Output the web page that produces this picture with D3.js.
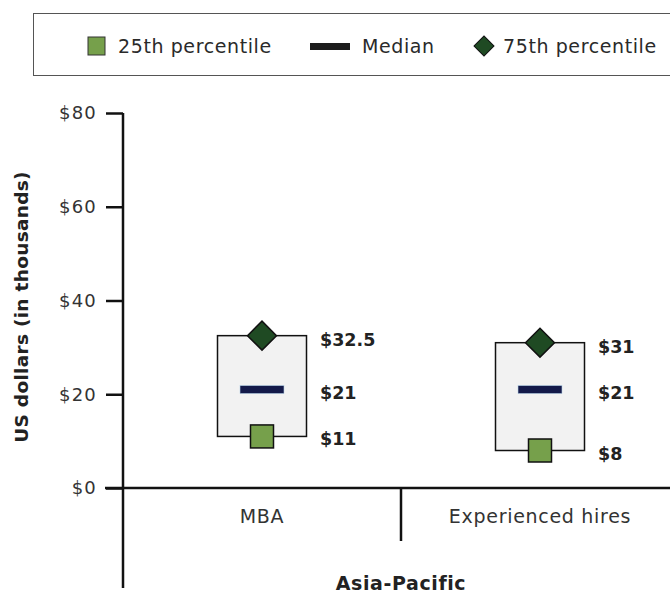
<!DOCTYPE html>
<html>
<head>
<meta charset="utf-8">
<script src="https://cdn.jsdelivr.net/npm/d3@7"></script>
<style>
  body { margin: 0; background: #fff; }
  svg text { font-family: "DejaVu Sans", sans-serif; }
</style>
</head>
<body>
<div id="chart"></div>
<script>
const categories = ['MBA', 'Experienced hires'];
const p25 = [11, 8];
const median = [21, 21];
const p75 = [32.5, 31];
const p25Labels = ['$11', '$8'];
const medianLabels = ['$21', '$21'];
const p75Labels = ['$32.5', '$31'];
const yTicks = [0, 20, 40, 60, 80];

const width = 670, height = 595;
const svg = d3.select('#chart').append('svg')
  .attr('width', width)
  .attr('height', height);

const x = d3.scaleBand().domain(categories).range([123, 679]);
const y = d3.scaleLinear().domain([0, 80]).range([488, 113]);

const lightGreen = '#76a04b', darkGreen = '#1f4a23', navy = '#141a4a';

// legend
const leg = svg.append('g');
leg.append('rect').attr('x', 33.5).attr('y', 13.5).attr('width', 660).attr('height', 62)
  .attr('fill', '#fff').attr('stroke', '#555').attr('stroke-width', 1);
leg.append('rect').attr('x', 88).attr('y', 37).attr('width', 17).attr('height', 18)
  .attr('fill', lightGreen).attr('stroke', '#333');
leg.append('text').attr('x', 118).attr('y', 53).text('25th percentile')
  .attr('font-size', 19).attr('letter-spacing', 0.6).attr('fill', '#2a2a2a');
leg.append('rect').attr('x', 310).attr('y', 43).attr('width', 40).attr('height', 7).attr('fill', '#1c1c1c');
leg.append('text').attr('x', 362).attr('y', 53).text('Median')
  .attr('font-size', 19).attr('letter-spacing', 0.6).attr('fill', '#2a2a2a');
leg.append('path').attr('d', d3.symbol(d3.symbolSquare, 200)())
  .attr('transform', 'translate(484,46) rotate(45)')
  .attr('fill', darkGreen).attr('stroke', '#111');
leg.append('text').attr('x', 503).attr('y', 53).text('75th percentile')
  .attr('font-size', 19).attr('letter-spacing', 0.6).attr('fill', '#2a2a2a');

// y axis
const yAxis = svg.append('g').attr('transform', 'translate(123,0)')
  .call(d3.axisLeft(y).tickValues(yTicks).tickSize(17).tickPadding(9).tickFormat(d => '$' + d));
yAxis.select('.domain').remove();
yAxis.selectAll('.tick line').attr('stroke', '#111').attr('stroke-width', 2.5);
yAxis.selectAll('.tick text').attr('font-size', 18).attr('fill', '#333').attr('letter-spacing', 1.2);
svg.append('line').attr('x1', 123).attr('x2', 123).attr('y1', 113).attr('y2', 588)
  .attr('stroke', '#111').attr('stroke-width', 2.5);

// x axis line and divider
svg.append('line').attr('x1', 105).attr('x2', 670).attr('y1', y(0)).attr('y2', y(0))
  .attr('stroke', '#111').attr('stroke-width', 2.5);
svg.append('line').attr('x1', x('Experienced hires')).attr('x2', x('Experienced hires'))
  .attr('y1', y(0)).attr('y2', 541).attr('stroke', '#111').attr('stroke-width', 2.5);

svg.selectAll('.cat').data(categories).join('text')
  .attr('x', d => x(d) + x.bandwidth() / 2).attr('y', 523)
  .attr('text-anchor', 'middle').attr('font-size', 19).attr('letter-spacing', 0.7).attr('fill', '#333')
  .text(d => d);

svg.append('text').attr('x', 401).attr('y', 590).attr('text-anchor', 'middle')
  .attr('font-size', 19).attr('letter-spacing', 0.6).attr('font-weight', 'bold').attr('fill', '#222').text('Asia-Pacific');

svg.append('text').attr('transform', 'translate(28,307) rotate(-90)')
  .attr('text-anchor', 'middle').attr('font-size', 18.5).attr('letter-spacing', 0.3).attr('font-weight', 'bold').attr('fill', '#222')
  .text('US dollars (in thousands)');

// boxes
const boxW = 89;
const g = svg.selectAll('.box').data(categories).join('g')
  .attr('transform', d => `translate(${x(d) + x.bandwidth() / 2},0)`);

g.append('rect')
  .attr('x', -boxW / 2).attr('width', boxW)
  .attr('y', (d, i) => y(p75[i]))
  .attr('height', (d, i) => y(p25[i]) - y(p75[i]))
  .attr('fill', '#f2f2f2').attr('stroke', '#111').attr('stroke-width', 1.5);

g.append('rect')
  .attr('x', -22).attr('width', 44)
  .attr('y', (d, i) => y(median[i]) - 4).attr('height', 8)
  .attr('fill', navy).attr('stroke', '#b8d4e8').attr('stroke-width', 0.6);

g.append('rect')
  .attr('x', -11.5).attr('width', 23)
  .attr('y', (d, i) => y(p25[i]) - 11.5).attr('height', 23)
  .attr('fill', lightGreen).attr('stroke', '#111').attr('stroke-width', 1.5);

g.append('path')
  .attr('d', d3.symbol(d3.symbolSquare, 420)())
  .attr('transform', (d, i) => `translate(0,${y(p75[i])}) rotate(45)`)
  .attr('fill', darkGreen).attr('stroke', '#111').attr('stroke-width', 1.5);

const lab = (vals, labels, dy) => g.append('text')
  .attr('x', 58).attr('y', (d, i) => y(vals[i]) + dy)
  .attr('font-size', 17.5).attr('font-weight', 'bold').attr('fill', '#222')
  .text((d, i) => labels[i]);
lab(p75, p75Labels, 10);
lab(median, medianLabels, 9);
lab(p25, p25Labels, 9);
</script>
</body>
</html>
